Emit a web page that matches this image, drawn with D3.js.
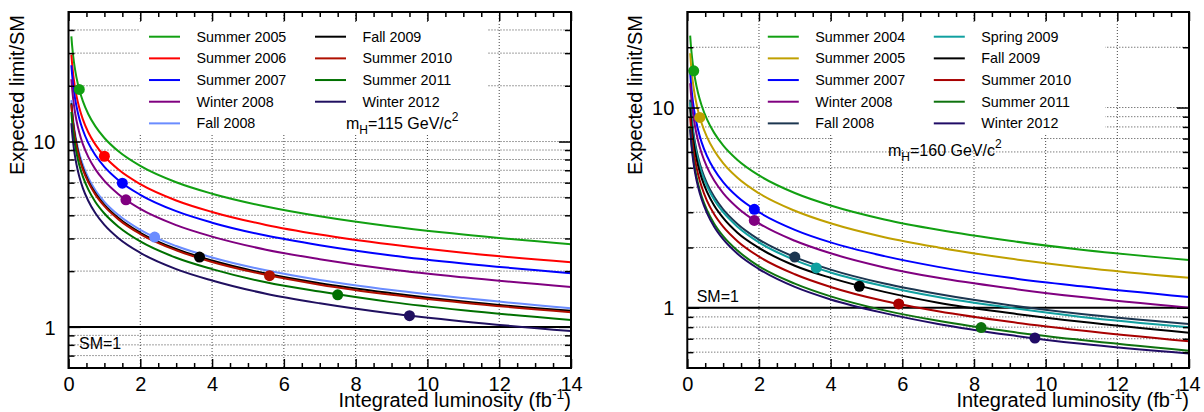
<!DOCTYPE html>
<html><head><meta charset="utf-8">
<script src="https://cdn.jsdelivr.net/npm/d3@7"></script>
<style>
body{margin:0;background:#fff}
svg{display:block}
text{font-family:"Liberation Sans",Arial,Helvetica,sans-serif;fill:#000}
</style>
</head><body>
<svg id="chart" width="1204" height="412"></svg>
<script>
// ---------- DATA ----------
const lumi = [0.08,0.1,0.13,0.17,0.22,0.3,0.4,0.55,0.75,1,1.4,2,3,4,5.5,7,9,11,14];
const xTickLabels = [0,2,4,6,8,10,12,14];
const yTickLabels = [1,10];

// Left panel: mH = 115 GeV/c^2
const leftNames = ["Summer 2005","Summer 2006","Summer 2007","Winter 2008","Fall 2008","Fall 2009","Summer 2010","Summer 2011","Winter 2012"];
const leftSummer2005 = [36.95,33.05,28.98,25.35,22.28,19.08,16.52,14.09,12.07,10.45,8.83,7.39,6.03,5.23,4.46,3.95,3.48,3.15,2.79];
const leftSummer2006 = [29.46,26.34,23.10,20.20,17.76,15.21,13.17,11.23,9.62,8.33,7.04,5.89,4.81,4.17,3.55,3.15,2.78,2.51,2.23];
const leftSummer2007 = [25.81,23.09,20.24,17.71,15.57,13.33,11.54,9.84,8.43,7.30,6.17,5.16,4.21,3.65,3.11,2.76,2.43,2.20,1.95];
const leftWinter2008 = [21.68,19.39,17.00,14.87,13.07,11.19,9.69,8.27,7.08,6.13,5.18,4.33,3.54,3.07,2.61,2.32,2.04,1.85,1.64];
const leftFall2008   = [16.73,14.96,13.12,11.47,10.09,8.64,7.48,6.38,5.46,4.73,4.00,3.34,2.73,2.37,2.02,1.79,1.58,1.43,1.26];
const leftFall2009   = [16.09,14.39,12.62,11.04,9.70,8.31,7.19,6.14,5.25,4.55,3.85,3.22,2.63,2.28,1.94,1.72,1.52,1.37,1.22];
const leftSummer2010 = [15.84,14.17,12.42,10.87,9.55,8.18,7.08,6.04,5.17,4.48,3.79,3.17,2.59,2.24,1.91,1.69,1.49,1.35,1.20];
const leftSummer2011 = [14.46,12.93,11.34,9.92,8.72,7.47,6.47,5.52,4.72,4.09,3.46,2.89,2.36,2.05,1.74,1.55,1.36,1.23,1.09];
const leftWinter2012 = [12.55,11.23,9.85,8.61,7.57,6.48,5.61,4.79,4.10,3.55,3.00,2.51,2.05,1.78,1.51,1.34,1.18,1.07,0.95];
const leftMarkerLumi  = [0.3,1.0,1.5,1.6,2.4,3.65,5.6,7.5,9.5];
const leftMarkerLimit = [19.1,8.33,5.96,4.85,3.05,2.38,1.89,1.49,1.15];

// Right panel: mH = 160 GeV/c^2
const rightNames = ["Summer 2004","Summer 2005","Summer 2007","Winter 2008","Fall 2008","Spring 2009","Fall 2009","Summer 2010","Summer 2011","Winter 2012"];
const rightSummer2004 = [22.88,20.46,17.94,15.69,13.80,11.81,10.23,8.72,7.47,6.47,5.47,4.58,3.74,3.24,2.76,2.45,2.16,1.95,1.73];
const rightSummer2005 = [18.67,16.70,14.64,12.81,11.26,9.64,8.35,7.12,6.10,5.28,4.46,3.73,3.05,2.64,2.25,2.00,1.76,1.59,1.41];
const rightSummer2007 = [14.99,13.41,11.76,10.28,9.04,7.74,6.70,5.72,4.90,4.24,3.58,3.00,2.45,2.12,1.81,1.60,1.41,1.28,1.13];
const rightWinter2008 = [13.22,11.83,10.37,9.07,7.97,6.83,5.91,5.04,4.32,3.74,3.16,2.64,2.16,1.87,1.59,1.41,1.25,1.13,1.00];
const rightFall2008   = [10.96,9.80,8.60,7.52,6.61,5.66,4.90,4.18,3.58,3.10,2.62,2.19,1.79,1.55,1.32,1.17,1.03,0.93,0.83];
const rightSpring2009 = [10.61,9.49,8.32,7.28,6.40,5.48,4.74,4.05,3.46,3.00,2.54,2.12,1.73,1.50,1.28,1.13,1.00,0.90,0.80];
const rightFall2009   = [9.94,8.89,7.79,6.82,5.99,5.13,4.44,3.79,3.24,2.81,2.37,1.99,1.62,1.41,1.20,1.06,0.94,0.85,0.75];
const rightSummer2010 = [8.98,8.03,7.04,6.16,5.42,4.64,4.02,3.42,2.93,2.54,2.15,1.80,1.47,1.27,1.08,0.96,0.85,0.77,0.68];
const rightSummer2011 = [8.06,7.21,6.32,5.53,4.86,4.16,3.60,3.07,2.63,2.28,1.93,1.61,1.32,1.14,0.97,0.86,0.76,0.69,0.61];
const rightWinter2012 = [7.78,6.96,6.10,5.34,4.69,4.02,3.48,2.97,2.54,2.20,1.86,1.56,1.27,1.10,0.94,0.83,0.73,0.66,0.59];
const rightMarkerLumi  = [0.18,0.35,1.87,1.87,3.0,3.6,4.8,5.9,8.2,9.7];
const rightMarkerLimit = [15.25,8.92,3.10,2.73,1.79,1.58,1.28,1.045,0.796,0.706];

// ---------- STYLE ----------
const leftColors  = ["#12a012","#ff0000","#0000ff","#800080","#6a8cff","#000000","#b01000","#007000","#201060"];
const rightColors = ["#12a012","#c0a000","#0000ff","#800080","#1c3650","#10a0a0","#000000","#a80000","#0e720e","#200c66"];

const svg = d3.select("#chart");
const FONT = '"Liberation Sans",Arial,Helvetica,sans-serif';

function panel(o){
  const g = svg.append("g");
  const x = d3.scaleLinear().domain([0,14]).range([o.x0,o.x1]);
  const y = d3.scaleLog().domain(o.yDomain).range([o.y1,o.y0]);
  const [ylo, yhi] = o.yDomain;

  // y tick values for log axis
  const yAll = [];
  [0.1,1,10].forEach(dec => { for(let k=1;k<=9;k++){ const v=+(k*dec).toFixed(3); if(v>ylo+1e-9 && v<yhi-1e-9) yAll.push(v);} });
  const yGrid = yAll.filter(v => v!==1);
  const xGrid = xTickLabels.filter(v => v>0 && v<14);

  // gridlines
  g.append("g").selectAll("line").data(yGrid).join("line")
    .attr("x1",o.x0).attr("x2",o.x1).attr("y1",d=>y(d)).attr("y2",d=>y(d))
    .attr("stroke","#444").attr("stroke-width",1).attr("stroke-dasharray","1,2");
  g.append("g").selectAll("line").data(xGrid).join("line")
    .attr("x1",d=>x(d)).attr("x2",d=>x(d)).attr("y1",o.y0).attr("y2",o.y1)
    .attr("stroke","#444").attr("stroke-width",1).attr("stroke-dasharray","1,2");

  // legend background boxes
  o.boxes.forEach(b => g.append("rect").attr("x",b[0]).attr("y",b[1]).attr("width",b[2]-b[0]).attr("height",b[3]-b[1]).attr("fill","#fff"));

  // clip
  const cid = "clip"+o.id;
  svg.append("clipPath").attr("id",cid).append("rect")
    .attr("x",o.x0).attr("y",o.y0).attr("width",o.x1-o.x0).attr("height",o.y1-o.y0);
  const plot = g.append("g").attr("clip-path",`url(#${cid})`);

  // SM = 1 line
  plot.append("line").attr("x1",o.x0).attr("x2",o.x1).attr("y1",y(1)).attr("y2",y(1))
    .attr("stroke","#000").attr("stroke-width",2);

  const line = d3.line().x((d,i)=>x(lumi[i])).y(d=>y(d)).curve(d3.curveMonotoneX);
  o.series.forEach((s,i) => {
    plot.append("path").attr("d",line(s)).attr("fill","none")
      .attr("stroke",o.colors[i]).attr("stroke-width",2);
  });
  o.markerLumi.forEach((m,i) => {
    plot.append("circle").attr("cx",x(m)).attr("cy",y(o.markerLimit[i])).attr("r",5.5)
      .attr("fill",o.colors[i]);
  });

  // ticks (inside)
  const xMinor = d3.range(0,14.001,0.5).filter(v => v%2!==0);
  const styleAxis = sel => { sel.select(".domain").remove(); sel.selectAll("line").attr("stroke","#000").attr("stroke-width",1.5); };
  g.append("g").attr("transform",`translate(0,${o.y1})`).call(d3.axisBottom(x).tickValues(xMinor).tickSize(-5).tickFormat("")).call(styleAxis);
  g.append("g").attr("transform",`translate(0,${o.y1})`).call(d3.axisBottom(x).tickValues(xTickLabels).tickSize(-9).tickFormat("")).call(styleAxis);
  g.append("g").attr("transform",`translate(0,${o.y0})`).call(d3.axisTop(x).tickValues(xMinor).tickSize(-5).tickFormat("")).call(styleAxis);
  g.append("g").attr("transform",`translate(0,${o.y0})`).call(d3.axisTop(x).tickValues(xTickLabels).tickSize(-9).tickFormat("")).call(styleAxis);
  const yMinor = yAll.filter(v => v!==1 && v!==10);
  g.append("g").attr("transform",`translate(${o.x0},0)`).call(d3.axisLeft(y).tickValues(yMinor).tickSize(-6).tickFormat("")).call(styleAxis);
  g.append("g").attr("transform",`translate(${o.x0},0)`).call(d3.axisLeft(y).tickValues(yTickLabels).tickSize(-12).tickFormat("")).call(styleAxis);
  g.append("g").attr("transform",`translate(${o.x1},0)`).call(d3.axisRight(y).tickValues(yMinor).tickSize(-6).tickFormat("")).call(styleAxis);
  g.append("g").attr("transform",`translate(${o.x1},0)`).call(d3.axisRight(y).tickValues(yTickLabels).tickSize(-12).tickFormat("")).call(styleAxis);

  // tick labels
  const xl = g.append("g").attr("transform",`translate(0,${o.y1})`)
    .call(d3.axisBottom(x).tickValues(xTickLabels).tickSize(0).tickPadding(9).tickFormat(d3.format("d")));
  xl.select(".domain").remove();
  xl.attr("font-family",FONT).attr("font-size",20);
  const yl = g.append("g").attr("transform",`translate(${o.x0},0)`)
    .call(d3.axisLeft(y).tickValues(yTickLabels).tickSize(0).tickPadding(13).tickFormat(d3.format("d")));
  yl.select(".domain").remove();
  yl.attr("font-family",FONT).attr("font-size",20);
  yl.selectAll("text").attr("dy","0.36em");

  // frame
  g.append("rect").attr("x",o.x0).attr("y",o.y0).attr("width",o.x1-o.x0).attr("height",o.y1-o.y0)
    .attr("fill","none").attr("stroke","#000").attr("stroke-width",2);

  // axis titles
  const xt = g.append("text").attr("x",o.x1).attr("y",407).attr("text-anchor","end").attr("font-size",20);
  xt.append("tspan").text("Integrated luminosity (fb");
  xt.append("tspan").attr("font-size",14).attr("dy",-8).text("-1");
  xt.append("tspan").attr("dy",8).text(")");
  g.append("text").attr("transform",`translate(${o.x0-45},15) rotate(-90)`).attr("text-anchor","end")
    .attr("font-size",20).text("Expected limit/SM");

  // SM=1 label
  g.append("text").attr("x",o.smX).attr("y",o.smY).attr("font-size",16).text("SM=1");

  // legend
  const rowY = i => 36.7 + i*21.67;
  o.names.forEach((n,i) => {
    const col = i < 5 ? 0 : 1, row = i < 5 ? i : i-5;
    const lx = o.x0 + (col===0 ? 80.5 : 246.5);
    const tx = o.x0 + (col===0 ? 128 : 294);
    g.append("line").attr("x1",lx).attr("x2",lx+31).attr("y1",rowY(row)).attr("y2",rowY(row))
      .attr("stroke",o.colors[i]).attr("stroke-width",2);
    g.append("text").attr("x",tx).attr("y",rowY(row)+5).attr("font-size",14.3).text(n);
  });

  // mH label
  const mt = g.append("text").attr("x",o.mhX).attr("y",o.mhY).attr("font-size",16);
  mt.append("tspan").text("m");
  mt.append("tspan").attr("font-size",12).attr("dy",5).text("H");
  mt.append("tspan").attr("dy",-5).text(`=${o.mass} GeV/c`);
  mt.append("tspan").attr("font-size",12).attr("dy",-8).text("2");
}

panel({
  id:"L", x0:68.5, x1:571, y0:12, y1:368, yDomain:[0.6,50],
  names:leftNames, colors:leftColors,
  series:[leftSummer2005,leftSummer2006,leftSummer2007,leftWinter2008,leftFall2008,leftFall2009,leftSummer2010,leftSummer2011,leftWinter2012],
  markerLumi:leftMarkerLumi, markerLimit:leftMarkerLimit,
  boxes:[[139,22,487,133]],
  smX:79, smY:349, mhX:346, mhY:129, mass:115
});
panel({
  id:"R", x0:687.3, x1:1189, y0:12, y1:368, yDomain:[0.5,30],
  names:rightNames, colors:rightColors,
  series:[rightSummer2004,rightSummer2005,rightSummer2007,rightWinter2008,rightFall2008,rightSpring2009,rightFall2009,rightSummer2010,rightSummer2011,rightWinter2012],
  markerLumi:rightMarkerLumi, markerLimit:rightMarkerLimit,
  boxes:[[760,22,1105,133],[833,133,1040,150]],
  smX:696.7, smY:302, mhX:888, mhY:155.5, mass:160
});
</script>
</body></html>
